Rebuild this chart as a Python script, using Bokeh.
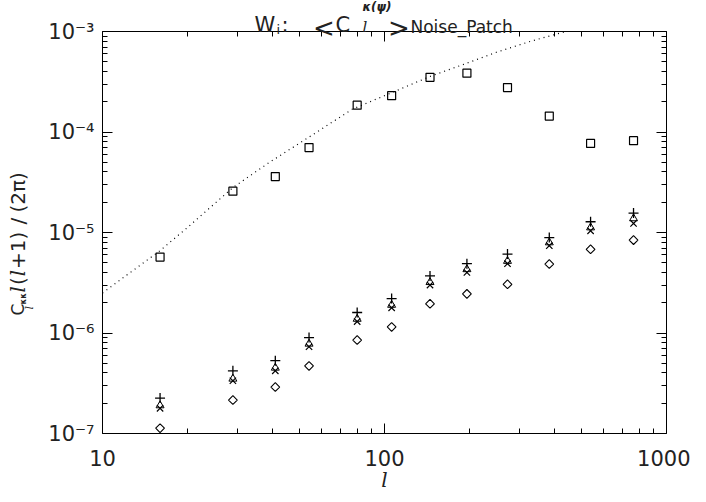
import numpy as np
from bokeh.plotting import figure
from bokeh.models import LogAxis, Label, CustomJSTickFormatter, FixedTicker, Range1d
from bokeh.embed import file_html
from bokeh.resources import INLINE

# ---- data ----
ell = [16, 29, 41, 54, 80, 106, 145, 196, 273, 384, 538, 764]
cl_square = [5.7e-6, 2.58e-5, 3.6e-5, 7.0e-5, 1.85e-4, 2.3e-4, 3.5e-4, 3.85e-4, 2.77e-4, 1.44e-4, 7.7e-5, 8.2e-5]
cl_plus = [2.25e-7, 4.2e-7, 5.3e-7, 9.0e-7, 1.6e-6, 2.2e-6, 3.7e-6, 4.9e-6, 6.1e-6, 8.9e-6, 1.28e-5, 1.56e-5]
cl_tri = [1.9e-7, 3.5e-7, 4.5e-7, 7.8e-7, 1.38e-6, 1.9e-6, 3.2e-6, 4.3e-6, 5.2e-6, 7.95e-6, 1.12e-5, 1.38e-5]
cl_x = [1.78e-7, 3.35e-7, 4.2e-7, 7.3e-7, 1.3e-6, 1.78e-6, 3.0e-6, 4.0e-6, 4.9e-6, 7.4e-6, 1.04e-5, 1.23e-5]
cl_diamond = [1.13e-7, 2.15e-7, 2.9e-7, 4.7e-7, 8.5e-7, 1.15e-6, 1.95e-6, 2.45e-6, 3.05e-6, 4.85e-6, 6.8e-6, 8.4e-6]
theory_ell = [10, 12, 16, 20, 29, 39, 54, 77, 106, 145, 196, 248, 330, 440]
theory_cl = [2.5e-6, 3.65e-6, 6.6e-6, 1.12e-5, 2.8e-5, 4.97e-5, 8.9e-5, 1.69e-4, 2.46e-4, 3.57e-4,
             4.84e-4, 6.18e-4, 8.0e-4, 1.0e-3]

x_tick_values = [10, 100, 1000]
x_tick_labels = ["10", "100", "1000"]
y_tick_values = [1e-7, 1e-6, 1e-5, 1e-4, 1e-3]
y_tick_labels = ["10\u207b\u2077", "10\u207b\u2076", "10\u207b\u2075", "10\u207b\u2074", "10\u207b\u00b3"]

x_minor = [k * 10 ** e for e in (1, 2) for k in range(2, 10)]
y_minor = [k * 10.0 ** e for e in (-7, -6, -5, -4) for k in range(2, 10)]

# ---- layout: plot box position inside the figure (pixels) ----
W, H = 690, 492
BOX_L, BOX_R, BOX_T, BOX_B = 102, 666, 31, 433
xdec = (BOX_R - BOX_L) / 2.0
ydec = (BOX_B - BOX_T) / 4.0
x_rng = Range1d(10 ** (1 - BOX_L / xdec), 10 ** (3 + (W - BOX_R) / xdec))
y_rng = Range1d(10 ** (-7 - (H - BOX_B) / ydec), 10 ** (-3 + BOX_T / ydec))

FONT = "DejaVu Sans"
SERIF = "DejaVu Serif"
INK = "#222222"

p = figure(width=W, height=H, x_axis_type="log", y_axis_type="log",
           x_range=x_rng, y_range=y_rng, title=None,
           output_backend="svg", toolbar_location=None,
           min_border_left=0, min_border_right=0, min_border_top=0, min_border_bottom=0)
p.grid.visible = False
p.outline_line_color = None
p.background_fill_color = "white"
p.border_fill_color = "white"

fmt_code = """
for (let i = 0; i < vals.length; i++) {
  if (Math.abs(Math.log10(tick) - Math.log10(vals[i])) < 1e-6) return labs[i];
}
return '';
"""
xfmt = CustomJSTickFormatter(args=dict(vals=x_tick_values, labs=x_tick_labels), code=fmt_code)
yfmt = CustomJSTickFormatter(args=dict(vals=y_tick_values, labs=y_tick_labels), code=fmt_code)
blank = CustomJSTickFormatter(code="return '';")

def style_axis(ax):
    ax.major_tick_in = 10
    ax.major_tick_out = 0
    ax.minor_tick_in = 5
    ax.minor_tick_out = 0
    ax.axis_line_color = "black"
    ax.major_tick_line_color = "black"
    ax.minor_tick_line_color = "black"
    ax.major_label_text_font = FONT
    ax.major_label_text_color = INK
    ax.major_label_text_font_size = "21px"

xb = p.xaxis[0]
xb.ticker = FixedTicker(ticks=x_tick_values, minor_ticks=x_minor)
xb.formatter = xfmt
xb.fixed_location = y_tick_values[0]
xb.bounds = (x_tick_values[0], x_tick_values[-1])
style_axis(xb)
xb.major_label_standoff = 16

yl = p.yaxis[0]
yl.ticker = FixedTicker(ticks=y_tick_values, minor_ticks=y_minor)
yl.formatter = yfmt
yl.fixed_location = x_tick_values[0]
yl.bounds = (y_tick_values[0], y_tick_values[-1])
style_axis(yl)
yl.major_label_standoff = 8

top = LogAxis(ticker=FixedTicker(ticks=x_tick_values, minor_ticks=x_minor), formatter=blank,
              fixed_location=y_tick_values[-1], bounds=(x_tick_values[0], x_tick_values[-1]))
right = LogAxis(ticker=FixedTicker(ticks=y_tick_values, minor_ticks=y_minor), formatter=blank,
                fixed_location=x_tick_values[-1], bounds=(y_tick_values[0], y_tick_values[-1]))
style_axis(top)
style_axis(right)
p.add_layout(top, "above")
p.add_layout(right, "right")

# ---- data marks ----
p.line(theory_ell, theory_cl, line_color="black", line_width=1.2, line_dash="1 4")
p.scatter(ell, cl_square, marker="square", size=8, fill_color=None, line_color="black", line_width=1.2)
p.scatter(ell, cl_plus, marker="cross", size=10, line_color="black", line_width=1.3)
p.scatter(ell, cl_tri, marker="triangle", size=8, fill_color=None, line_color="black", line_width=1.0)
p.scatter(ell, cl_x, marker="x", size=9, line_color="black", line_width=1.2)
p.scatter(ell, cl_diamond, marker="square", angle=np.pi / 4, size=6.2, fill_color=None,
          line_color="black", line_width=1.1)

# ---- text (screen units, origin at the figure's bottom-left) ----
def lab(text, sx, sy, size, font=FONT, style="normal", angle=0.0, align="left", baseline="alphabetic"):
    p.add_layout(Label(x=sx, y=sy, x_units="screen", y_units="screen", text=text,
                       text_font=font, text_font_size=f"{size}px", text_font_style=style,
                       text_color=INK, angle=angle, text_align=align, text_baseline=baseline))

# title: W_i:  <C_l^{kappa(psi)}>_Noise_Patch
lab("W", 254, 467.4, 21)
lab("i", 276, 463, 13)
lab(":", 281, 467.4, 21)
lab("<", 312.4, 464.6, 26)
lab("C", 335, 467.4, 21)
lab("l", 362, 466, 15, font=SERIF, style="italic")
lab("\u03ba(\u03c8)", 362, 486, 12, style="bold italic")
lab(">", 387.4, 464.6, 26)
lab("Noise_Patch", 410, 466, 17)

# x-axis title
lab("l", 384, 1, 20, font=SERIF, style="italic", align="center", baseline="bottom")

# y-axis title (rotated): C_l^{kk} l(l+1)/(2pi)
A = np.pi / 2
lab("C", 17, 177, 17, angle=A)
lab("l", 29, 183, 11, font=SERIF, style="italic", angle=A)
lab("\u03ba\u03ba", 23, 188, 8, style="bold", angle=A)
lab("l", 17, 200, 20, font=SERIF, style="italic", angle=A)
lab("(", 17, 207.4, 20, angle=A)
lab("l", 17, 216.2, 20, font=SERIF, style="italic", angle=A)
lab("+1)", 17, 223.6, 20, angle=A)
lab("/", 17, 268, 20, angle=A)
lab("(2\u03c0)", 17, 280, 20, angle=A)

open("out.html", "w").write(file_html(p, INLINE))
